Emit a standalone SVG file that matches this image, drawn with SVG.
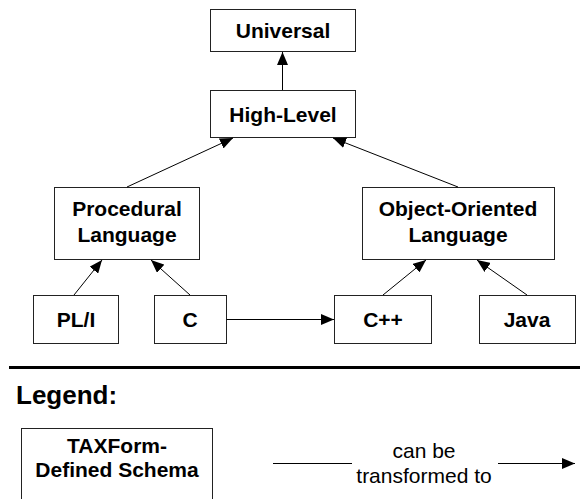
<svg xmlns="http://www.w3.org/2000/svg" width="580" height="499" viewBox="0 0 580 499">
<style>
rect.n{fill:#fff;stroke:#222;stroke-width:1}
text{font-family:"Liberation Sans",Arial,sans-serif;fill:#000;text-anchor:middle}
.b{font-weight:bold;font-size:21px}
.l{font-size:21px}
.c line{stroke:#000;stroke-width:1;marker-end:url(#ah)}
</style>
<defs>
<marker id="ah" markerUnits="userSpaceOnUse" markerWidth="13" markerHeight="11" refX="13" refY="5.5" orient="auto">
<path d="M0,0 L13,5.5 L0,11 z" fill="#000"/>
</marker>
</defs>
<g id="universal"><rect class="n" x="210.5" y="9.5" width="145" height="42"/><text class="b" x="283" y="37.5">Universal</text></g>
<g id="high-level"><rect class="n" x="210.5" y="90.5" width="145" height="47"/><text class="b" x="283" y="121.5">High-Level</text></g>
<g id="procedural"><rect class="n" x="54.5" y="187.5" width="145" height="72"/><text class="b" x="127" y="216">Procedural</text><text class="b" x="127" y="242">Language</text></g>
<g id="object-oriented"><rect class="n" x="362.5" y="187.5" width="192" height="72"/><text class="b" x="458" y="216">Object-Oriented</text><text class="b" x="458" y="242">Language</text></g>
<g id="pli"><rect class="n" x="33.5" y="295.5" width="85" height="48"/><text class="b" x="76" y="326.5">PL/I</text></g>
<g id="c"><rect class="n" x="154.5" y="295.5" width="72" height="48"/><text class="b" x="190" y="326.5">C</text></g>
<g id="cpp"><rect class="n" x="334.5" y="295.5" width="97" height="48"/><text class="b" x="383" y="326.5">C++</text></g>
<g id="java"><rect class="n" x="479.5" y="295.5" width="96" height="48"/><text class="b" x="527" y="326.5">Java</text></g>
<g id="connectors" class="c">
<line x1="282.5" y1="90" x2="282.5" y2="52"/>
<line x1="127" y1="187" x2="233" y2="138"/>
<line x1="458" y1="187" x2="333" y2="138"/>
<line x1="74" y1="295" x2="102" y2="260"/>
<line x1="190" y1="295" x2="151" y2="260"/>
<line x1="226.5" y1="319.5" x2="334" y2="319.5"/>
<line x1="383" y1="295" x2="426" y2="260"/>
<line x1="527" y1="295" x2="477" y2="260"/>
</g>
<line x1="9" y1="367.5" x2="580" y2="367.5" stroke="#000" stroke-width="3"/>
<text x="16" y="404" style="font-weight:bold;font-size:26px;text-anchor:start">Legend:</text>
<g id="legend-node"><rect class="n" x="21.5" y="428.5" width="191" height="90"/><text class="b" x="117" y="453">TAXForm-</text><text class="b" x="117" y="477">Defined Schema</text></g>
<g id="legend-edge">
<line x1="273" y1="463.5" x2="352" y2="463.5" stroke="#000" stroke-width="1"/>
<line x1="498" y1="463.5" x2="575" y2="463.5" stroke="#000" stroke-width="1" marker-end="url(#ah)"/>
<text class="l" x="424" y="458">can be</text>
<text class="l" x="424" y="483">transformed to</text>
</g>
</svg>
